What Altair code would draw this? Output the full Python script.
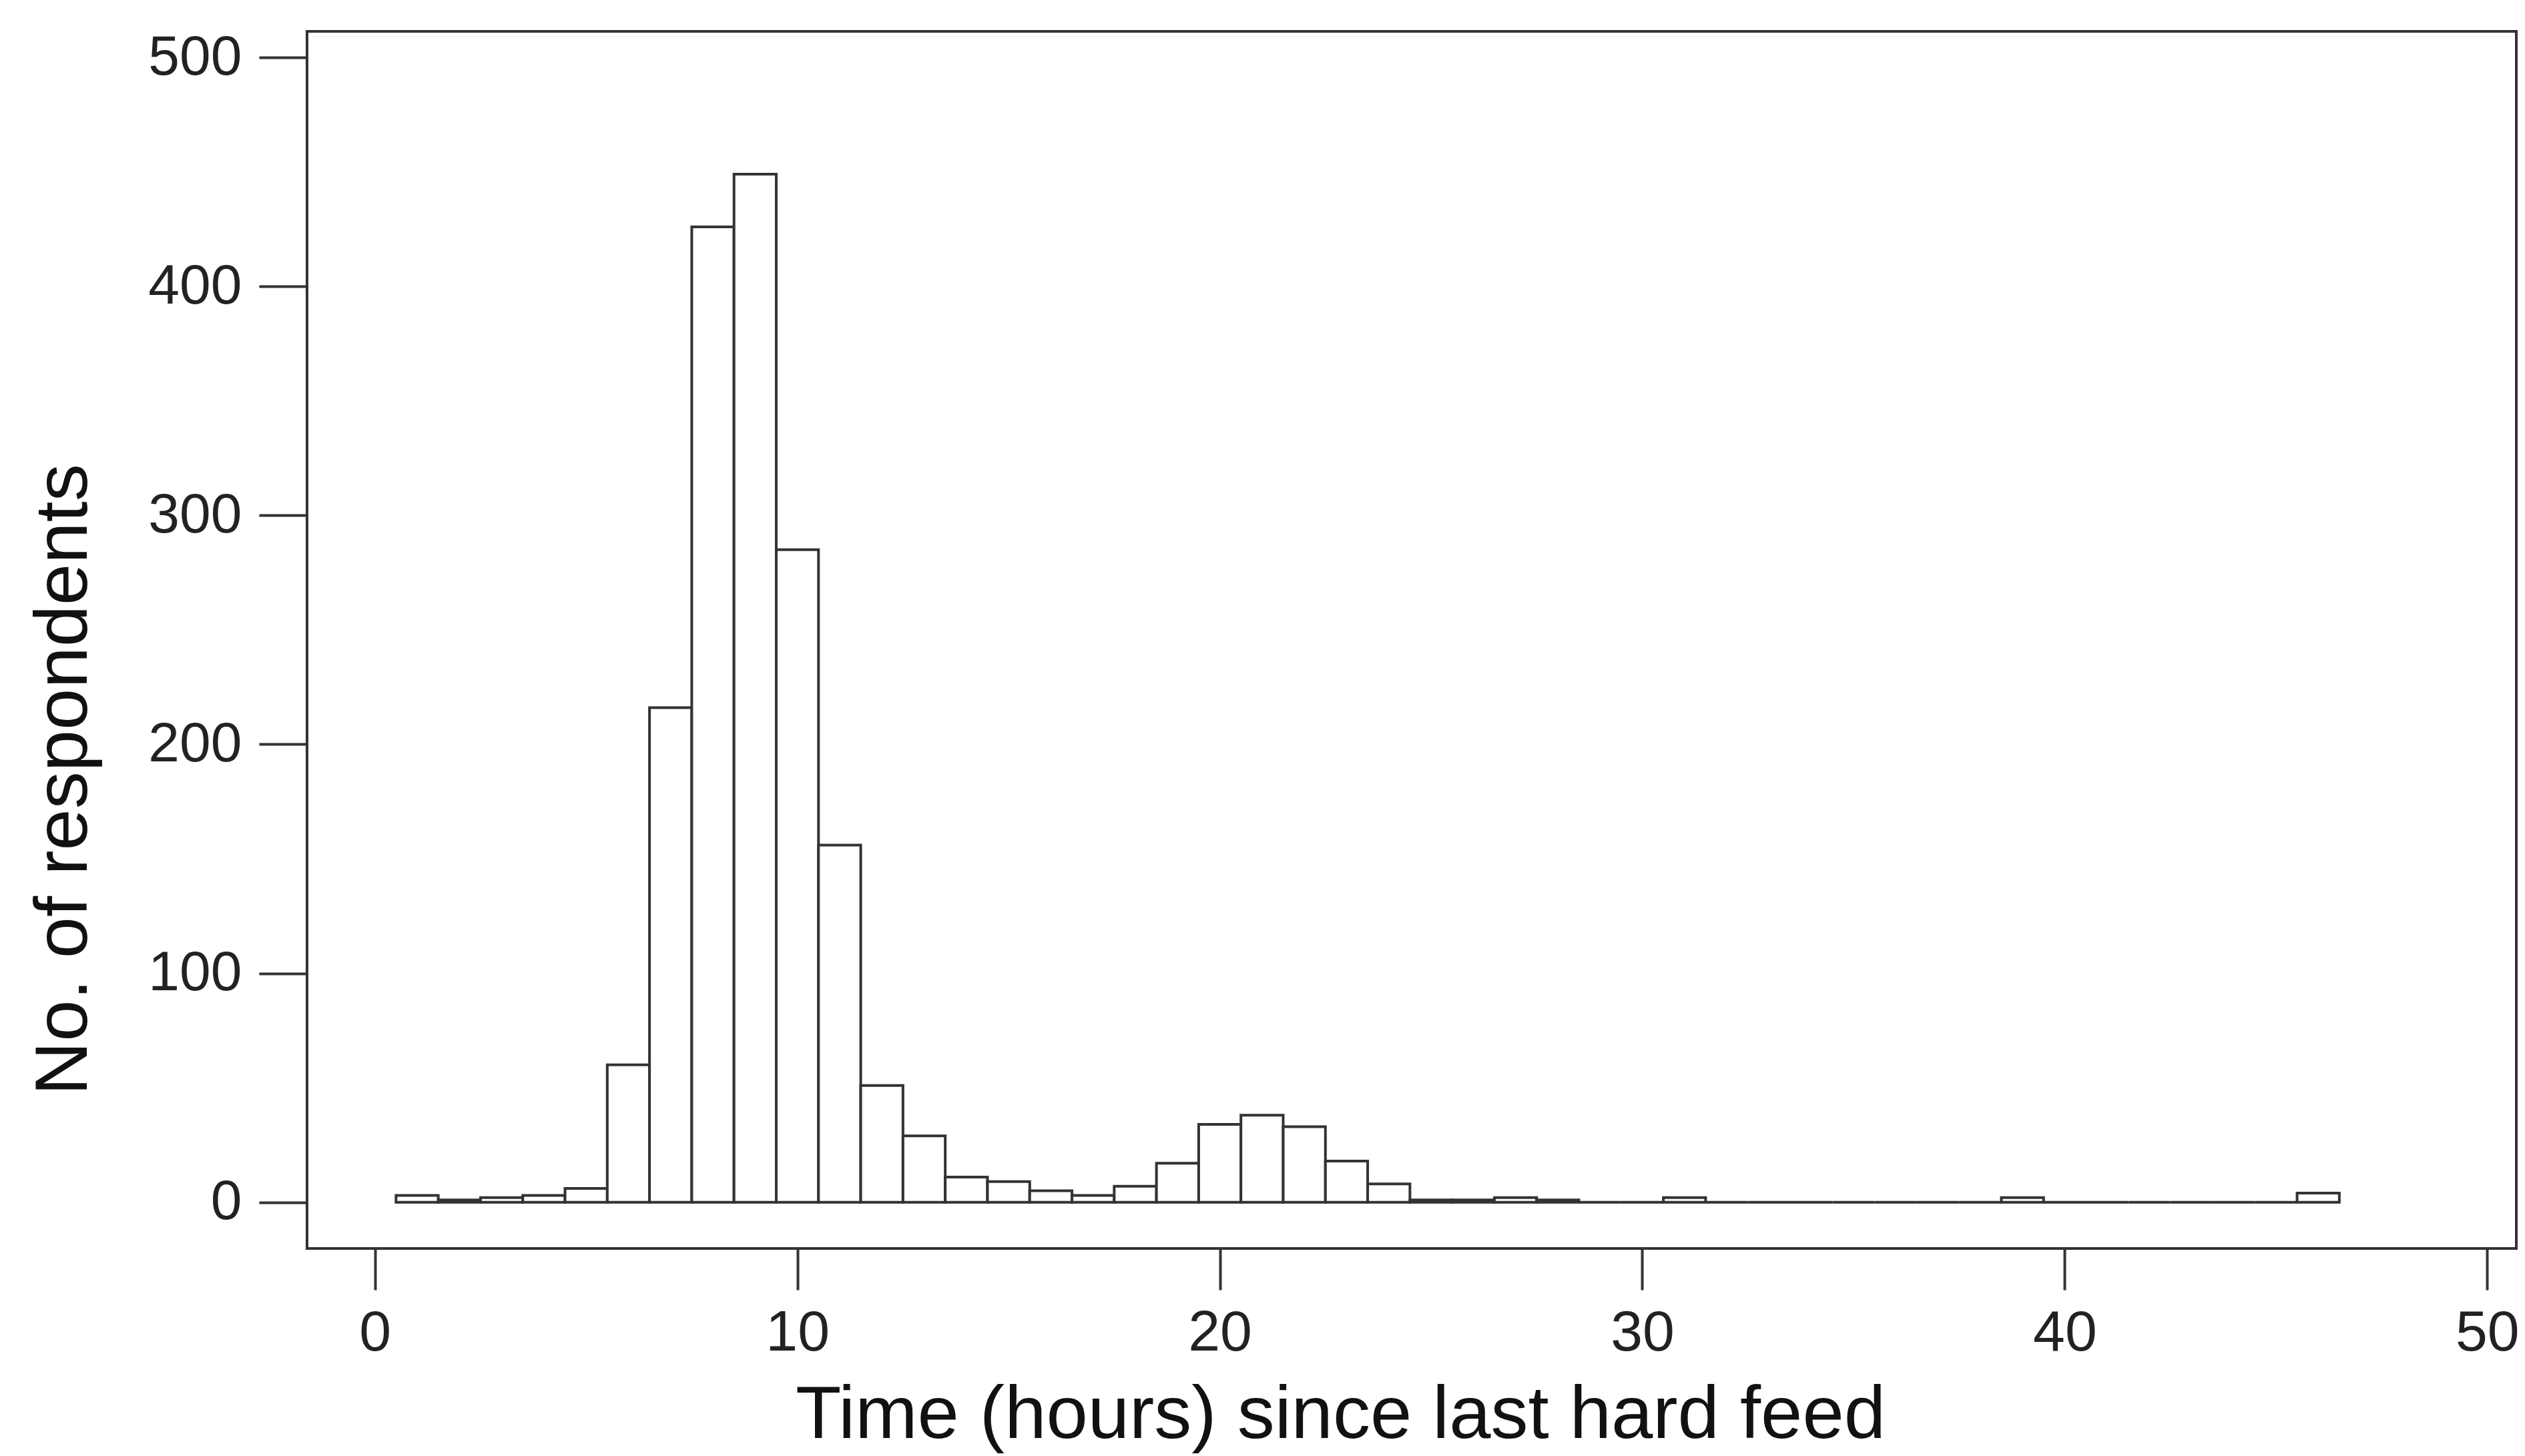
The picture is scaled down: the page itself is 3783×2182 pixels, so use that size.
import altair as alt
import pandas as pd

# Histogram bins: one-hour bins centred on whole hours
hour_bins = list(range(1, 47))
respondents = [3, 1, 2, 3, 6, 60, 216, 426, 449, 285,
               156, 51, 29, 11, 9, 5, 3, 7, 17, 34,
               38, 33, 18, 8, 1, 1, 2, 1, 0, 0,
               2, 0, 0, 0, 0, 0, 0, 0, 2, 0,
               0, 0, 0, 0, 0, 4]
x_ticks = [0, 10, 20, 30, 40, 50]
y_ticks = [0, 100, 200, 300, 400, 500]

df = pd.DataFrame({"hour": hour_bins, "count": respondents})
df["start"] = df["hour"] - 0.5
df["end"] = df["hour"] + 0.5

FONT = "Liberation Sans"
INK = "#333333"

chart = alt.Chart(df).mark_rect(fill="white", stroke=INK, strokeWidth=4).encode(
    x=alt.X(
        "start:Q",
        scale=alt.Scale(domain=[-1.607, 50.69], nice=False, zero=False),
        axis=alt.Axis(
            values=x_ticks, grid=False, domain=False,
            tickSize=62, tickWidth=4, tickColor=INK,
            labelFont=FONT, labelFontSize=86, labelColor="#222222",
            labelPadding=22, labelFlush=False, labelOverlap=False,
            title="Time (hours) since last hard feed",
            titleFont=FONT, titleFontSize=112, titleFontWeight="normal",
            titleColor="#111111", titleX=1548, titleY=283,
            titleBaseline="alphabetic", titleAlign="center",
        ),
    ),
    x2="end:Q",
    y=alt.Y(
        "count:Q",
        scale=alt.Scale(domain=[-20.2, 511.4], nice=False, zero=False),
        axis=alt.Axis(
            values=y_ticks, grid=False, domain=False,
            tickSize=72, tickWidth=4, tickColor=INK,
            labelFont=FONT, labelFontSize=84, labelColor="#222222",
            labelPadding=26, labelOverlap=False,
            title="No. of respondents",
            titleFont=FONT, titleFontSize=112, titleFontWeight="normal",
            titleColor="#111111", titleX=-331, titleY=1121, titleAngle=270,
            titleBaseline="alphabetic", titleAlign="center",
        ),
    ),
    y2=alt.datum(0),
).properties(
    width=3310,
    height=1824,
    autosize=alt.AutoSizeParams(type="none"),
    padding={"left": 460, "top": 47, "right": 13, "bottom": 311},
    background="white",
).configure_view(
    stroke=INK, strokeWidth=4
)

chart.save("out.html", embed_options={"renderer": "svg", "actions": False})
